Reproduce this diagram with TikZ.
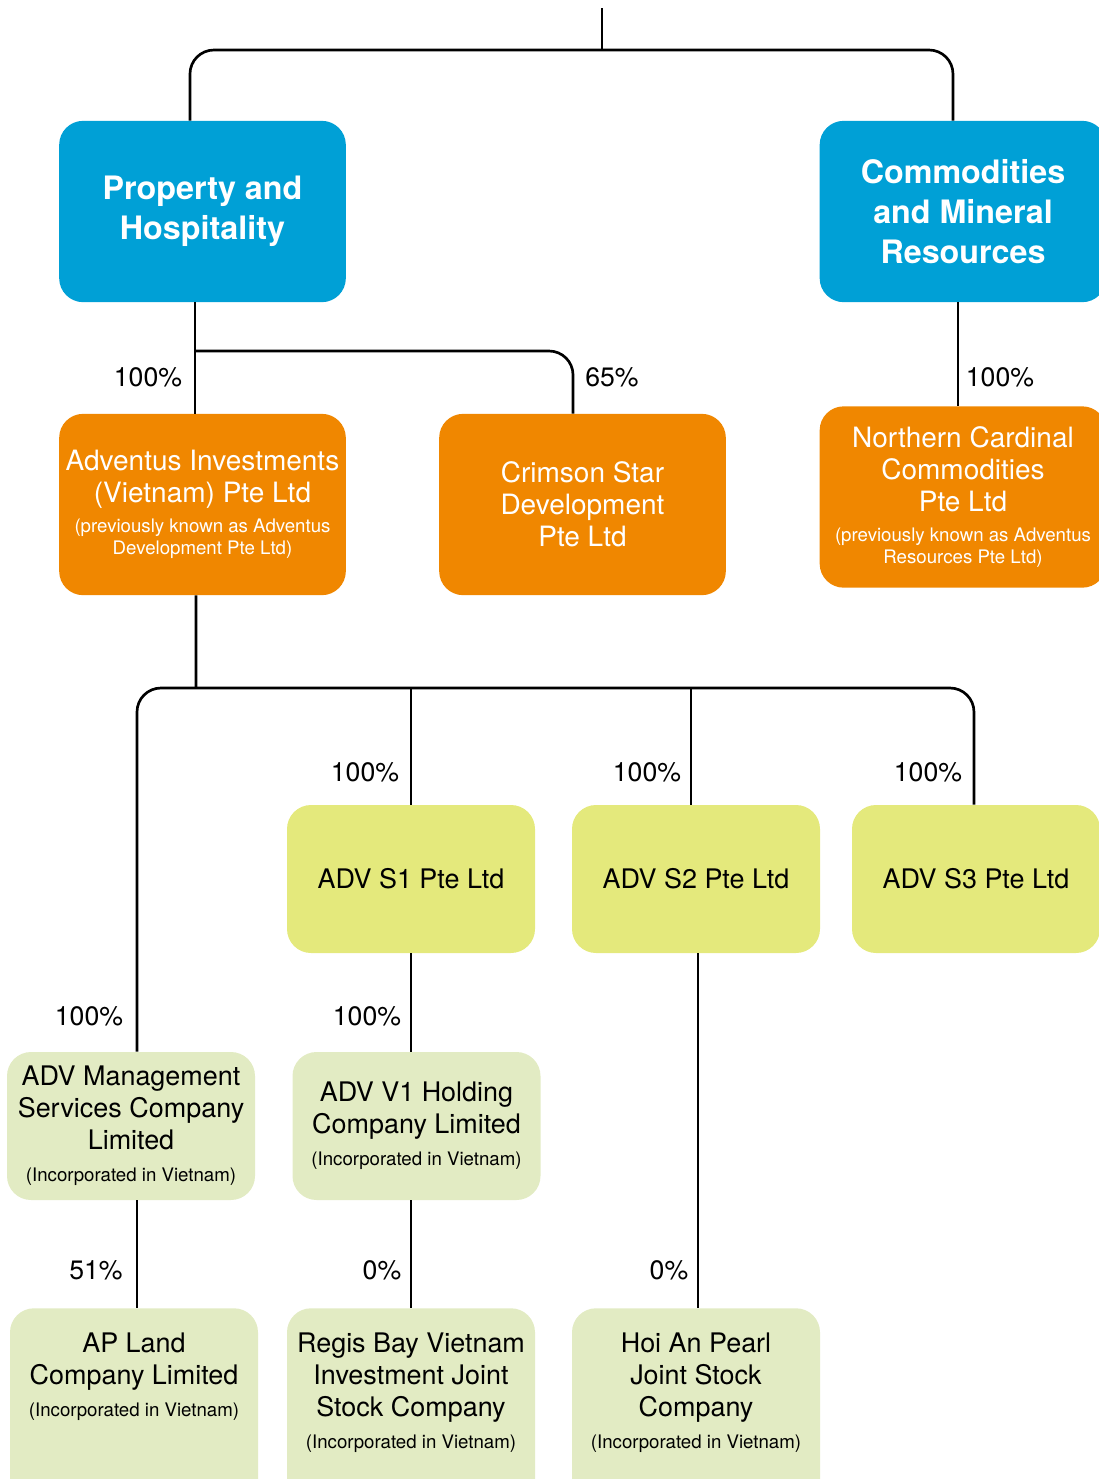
\documentclass[tikz,border=0pt]{standalone}
\usepackage{fontspec}
\setmainfont{TeX Gyre Heros}
\usetikzlibrary{calc}
\definecolor{sky}{HTML}{00A0D6}
\definecolor{amber}{HTML}{F08700}
\definecolor{lime}{HTML}{E4E97C}
\definecolor{sage}{HTML}{E2EBC3}

\newcommand{\smalltxt}[1]{{\fontsize{14}{17}\selectfont #1}}

\tikzset{
  box/.style={rectangle, rounded corners=18pt, align=center, inner sep=3pt},
  division/.style={box, fill=sky, text=white, minimum width=215pt, minimum height=136pt,
    font=\bfseries\fontsize{24.2}{30}\selectfont},
  holding/.style={box, fill=amber, text=white, minimum width=215pt, minimum height=136pt,
    font=\fontsize{21}{24}\selectfont},
  shelf/.style={box, fill=lime, minimum width=186pt, minimum height=111pt,
    font=\fontsize{20.2}{24}\selectfont},
  local/.style={box, fill=sage, minimum width=186pt, minimum height=111pt,
    font=\fontsize{20.2}{24}\selectfont},
  cutoff/.style={local, anchor=north, inner ysep=18.5pt, text depth=95pt},
  link/.style={line width=2pt, rounded corners=18pt},
  pct/.style={font=\fontsize{20}{24}\selectfont},
}

\begin{document}
\begin{tikzpicture}[x=0.75pt, y=-0.75pt]

  \useasboundingbox (0, 0) rectangle (1099, 1479);
  \clip (0, 0) rectangle (1099, 1479);

  % DIVISIONS
  \node[division] (pnh) at (202.5, 211.5) {Property and\\Hospitality};
  \node[division] (cmr) at (963, 211.5) {Commodities\\and Mineral\\Resources};

  % HOLDING COMPANIES
  \node[holding] (avi) at (202.5, 504.5) {Adventus Investments\\(Vietnam) Pte Ltd\\[-2pt]%
    \smalltxt{(previously known as Adventus}\\[-7pt]\smalltxt{Development Pte Ltd)}};
  \node[holding] (csd) at (582.5, 504.5) {Crimson Star\\Development\\Pte Ltd};
  \node[holding] (ncc) at (963, 497) {Northern Cardinal\\Commodities\\Pte Ltd\\[-1.5pt]%
    \smalltxt{(previously known as Adventus}\\[-7.5pt]\smalltxt{Resources Pte Ltd)}};

  % SHELF COMPANIES
  \node[shelf] (s1) at (411, 879) {ADV S1 Pte Ltd};
  \node[shelf] (s2) at (696, 879) {ADV S2 Pte Ltd};
  \node[shelf] (s3) at (976, 879) {ADV S3 Pte Ltd};

  % VIETNAM COMPANIES
  \node[local] (mgmt) at (131, 1126) {ADV Management\\Services Company\\Limited\\%
    \smalltxt{(Incorporated in Vietnam)}};
  \node[local] (v1) at (416.5, 1126) {ADV V1 Holding\\Company Limited\\%
    \smalltxt{(Incorporated in Vietnam)}};

  \node[cutoff] (apl) at (134, 1308) {AP Land\\Company Limited\\%
    \smalltxt{(Incorporated in Vietnam)}};
  \node[cutoff] (rbv) at (411, 1308) {Regis Bay Vietnam\\Investment Joint\\Stock Company\\%
    \smalltxt{(Incorporated in Vietnam)}};
  \node[cutoff] (hap) at (696, 1308) {Hoi An Pearl\\Joint Stock\\Company\\%
    \smalltxt{(Incorporated in Vietnam)}};

  % LINKS
  \coordinate (root) at (602, 8);
  \coordinate (rootsplit) at (602, 50);
  \coordinate (pnhsplit) at (195, 351);
  \coordinate (avisplit) at (196, 688);

  \draw[link] (root) -- (rootsplit);
  \draw[link] ([xshift=-9.4pt]pnh.north) |- (rootsplit) -| ([xshift=-7.5pt]cmr.north);

  \draw[link] ([xshift=-5.6pt]pnh.south) -- ([xshift=-5.6pt]avi.north);
  \draw[link] (pnhsplit) -| ([xshift=-7.1pt]csd.north);
  \draw[link] ([xshift=-3.75pt]cmr.south) -- ([xshift=-3.75pt]ncc.north);

  \draw[link] ([xshift=-4.9pt]avi.south) -- (avisplit);
  \draw[link] ([xshift=4.5pt]mgmt.north) |- (avisplit) -| ([xshift=-1.5pt]s3.north);
  \draw[link] (s1.north) -- (s1.north |- avisplit);
  \draw[link] ([xshift=-3.75pt]s2.north) -- ([xshift=-3.75pt]s2.north |- avisplit);

  \draw[link] (s1.south) -- (s1.south |- v1.north);
  \draw[link] ([xshift=4.5pt]mgmt.south) -- ([xshift=2.25pt]apl.north);
  \draw[link] (v1.south -| rbv.north) -- (rbv.north);
  \draw[link] ([xshift=1.5pt]s2.south) -- ([xshift=1.5pt]hap.north);

  % PERCENTAGES
  \node[pct] (pavi) at (148, 377) {100\%};
  \node[pct] (pcsd) at (612, 377) {65\%};
  \node[pct] (pncc) at (1000, 377) {100\%};
  \node[pct] (ps1) at (365, 772) {100\%};
  \node[pct] (ps2) at (647, 772) {100\%};
  \node[pct] (ps3) at (928, 772) {100\%};
  \node[pct] (pmgmt) at (89, 1016) {100\%};
  \node[pct] (pv1) at (367, 1016) {100\%};
  \node[pct] (papl) at (96, 1270) {51\%};
  \node[pct] (prbv) at (382, 1270) {0\%};
  \node[pct] (phap) at (669, 1270) {0\%};

\end{tikzpicture}
\end{document}
